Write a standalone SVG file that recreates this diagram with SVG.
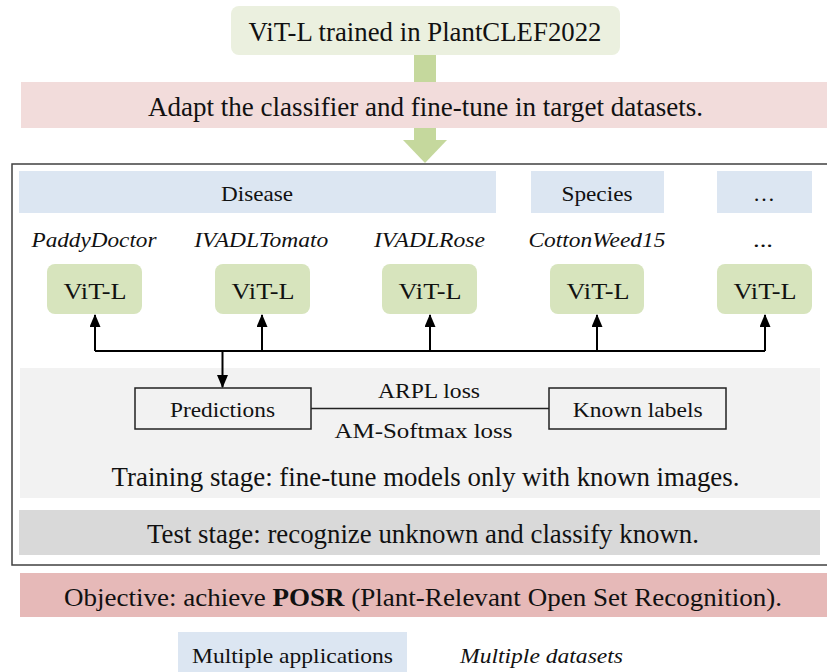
<svg xmlns="http://www.w3.org/2000/svg" width="827" height="672" viewBox="0 0 827 672">
<defs>
<style>
text{fill:#111;text-anchor:middle;font-family:"Liberation Serif","Times New Roman",serif}
.it{font-style:italic}
.vit{fill:#D7E4BD}
.blue{fill:#DCE6F2}
.conn{stroke:#000;stroke-width:2;fill:none}
.box{fill:none;stroke:#222;stroke-width:1.5}
</style>
<marker id="ah" viewBox="0 0 13 11" refX="12" refY="5.5" markerWidth="13" markerHeight="11" orient="auto" markerUnits="userSpaceOnUse">
<path d="M0,0 L13,5.5 L0,11 Z" fill="#000"/>
</marker>
</defs>
<rect width="827" height="672" fill="#fff"/>

<g id="bigArrow">
<rect x="414" y="55" width="22" height="88" fill="#C5D89D"/>
<polygon points="403,140 447,140 425,163" fill="#C5D89D"/>
</g>

<g id="pretrained">
<rect x="231" y="6" width="389" height="49" rx="8" fill="#EBF0DF"/>
<text font-size="27" x="425" y="40.5" textLength="353" lengthAdjust="spacingAndGlyphs">ViT-L trained in PlantCLEF2022</text>
</g>

<g id="adapt">
<rect x="21" y="82" width="806" height="46" fill="#F2DCDB"/>
<text font-size="27" x="425.5" y="116" textLength="555" lengthAdjust="spacingAndGlyphs">Adapt the classifier and fine-tune in target datasets.</text>
</g>

<g id="frame">
<rect x="12" y="164" width="830" height="401" fill="none" stroke="#404040" stroke-width="1.5"/>
</g>

<g id="disease">
<rect class="blue" x="19" y="171" width="477" height="42"/>
<text font-size="21" x="257" y="200.5" textLength="72" lengthAdjust="spacingAndGlyphs">Disease</text>
</g>
<g id="species">
<rect class="blue" x="531" y="171" width="133" height="42"/>
<text font-size="21" x="597" y="200.5" textLength="71" lengthAdjust="spacingAndGlyphs">Species</text>
</g>
<g id="moreApps">
<rect class="blue" x="717" y="171" width="95" height="42"/>
<text font-size="21" x="764" y="200.5" textLength="22" lengthAdjust="spacingAndGlyphs">…</text>
</g>

<g id="vit1">
<text class="it" font-size="21" x="94" y="247.3" textLength="125" lengthAdjust="spacingAndGlyphs">PaddyDoctor</text>
<rect class="vit" x="47" y="264" width="95" height="50" rx="8"/>
<text font-size="23" x="95" y="299.3" textLength="63" lengthAdjust="spacingAndGlyphs">ViT-L</text>
</g>
<g id="vit2">
<text class="it" font-size="21" x="261.3" y="247.3" textLength="134" lengthAdjust="spacingAndGlyphs">IVADLTomato</text>
<rect class="vit" x="215" y="264" width="95" height="50" rx="8"/>
<text font-size="23" x="263" y="299.3" textLength="63" lengthAdjust="spacingAndGlyphs">ViT-L</text>
</g>
<g id="vit3">
<text class="it" font-size="21" x="429.5" y="247.3" textLength="111" lengthAdjust="spacingAndGlyphs">IVADLRose</text>
<rect class="vit" x="382" y="264" width="95" height="50" rx="8"/>
<text font-size="23" x="430" y="299.3" textLength="63" lengthAdjust="spacingAndGlyphs">ViT-L</text>
</g>
<g id="vit4">
<text class="it" font-size="21" x="597" y="247.3" textLength="137" lengthAdjust="spacingAndGlyphs">CottonWeed15</text>
<rect class="vit" x="550" y="264" width="94" height="50" rx="8"/>
<text font-size="23" x="598" y="299.3" textLength="63" lengthAdjust="spacingAndGlyphs">ViT-L</text>
</g>
<g id="vit5">
<text font-size="21" x="763" y="247.3" textLength="20" lengthAdjust="spacingAndGlyphs">...</text>
<rect class="vit" x="717" y="264" width="95" height="50" rx="8"/>
<text font-size="23" x="765" y="299.3" textLength="63" lengthAdjust="spacingAndGlyphs">ViT-L</text>
</g>

<g id="training">
<rect x="20" y="368" width="800" height="130" fill="#F2F2F2"/>
<text font-size="26.5" x="425.5" y="486" textLength="628" lengthAdjust="spacingAndGlyphs">Training stage: fine-tune models only with known images.</text>
</g>

<g id="predictions">
<rect class="box" x="135" y="388" width="176" height="41"/>
<text font-size="22" x="222.5" y="416.7" textLength="105" lengthAdjust="spacingAndGlyphs">Predictions</text>
</g>
<g id="knownLabels">
<rect class="box" x="549" y="388" width="177" height="41"/>
<text font-size="22" x="637.7" y="416.7" textLength="130" lengthAdjust="spacingAndGlyphs">Known labels</text>
</g>

<g id="connectors">
<polyline class="conn" points="95,351 765,351"/>
<line class="conn" x1="95" y1="351" x2="95" y2="315" marker-end="url(#ah)"/>
<line class="conn" x1="262" y1="351" x2="262" y2="315" marker-end="url(#ah)"/>
<line class="conn" x1="430" y1="351" x2="430" y2="315" marker-end="url(#ah)"/>
<line class="conn" x1="597" y1="351" x2="597" y2="315" marker-end="url(#ah)"/>
<line class="conn" x1="765" y1="351" x2="765" y2="315" marker-end="url(#ah)"/>
<line class="conn" x1="222.5" y1="350" x2="222.5" y2="387" marker-end="url(#ah)"/>
<line x1="311" y1="408.5" x2="549" y2="408.5" stroke="#222" stroke-width="1.5"/>
<text font-size="21" x="429" y="397.5" textLength="102" lengthAdjust="spacingAndGlyphs">ARPL loss</text>
<text font-size="21" x="423.5" y="437.5" textLength="178" lengthAdjust="spacingAndGlyphs">AM-Softmax loss</text>
</g>

<g id="test">
<rect x="19" y="510" width="801" height="45" fill="#D9D9D9"/>
<text font-size="26.5" x="423" y="543.3" textLength="552" lengthAdjust="spacingAndGlyphs">Test stage: recognize unknown and classify known.</text>
</g>

<g id="objective">
<rect x="20" y="573" width="807" height="44" fill="#E6B9B8"/>
<text font-size="26" x="423" y="605.7" textLength="718" lengthAdjust="spacingAndGlyphs">Objective: achieve <tspan font-weight="bold">POSR</tspan> (Plant-Relevant Open Set Recognition).</text>
</g>

<g id="legend">
<rect class="blue" x="178" y="632" width="229" height="40"/>
<text font-size="22" x="292.5" y="662.5" textLength="201" lengthAdjust="spacingAndGlyphs">Multiple applications</text>
<text class="it" font-size="22" x="541.5" y="662.5" textLength="163" lengthAdjust="spacingAndGlyphs">Multiple datasets</text>
</g>
</svg>
